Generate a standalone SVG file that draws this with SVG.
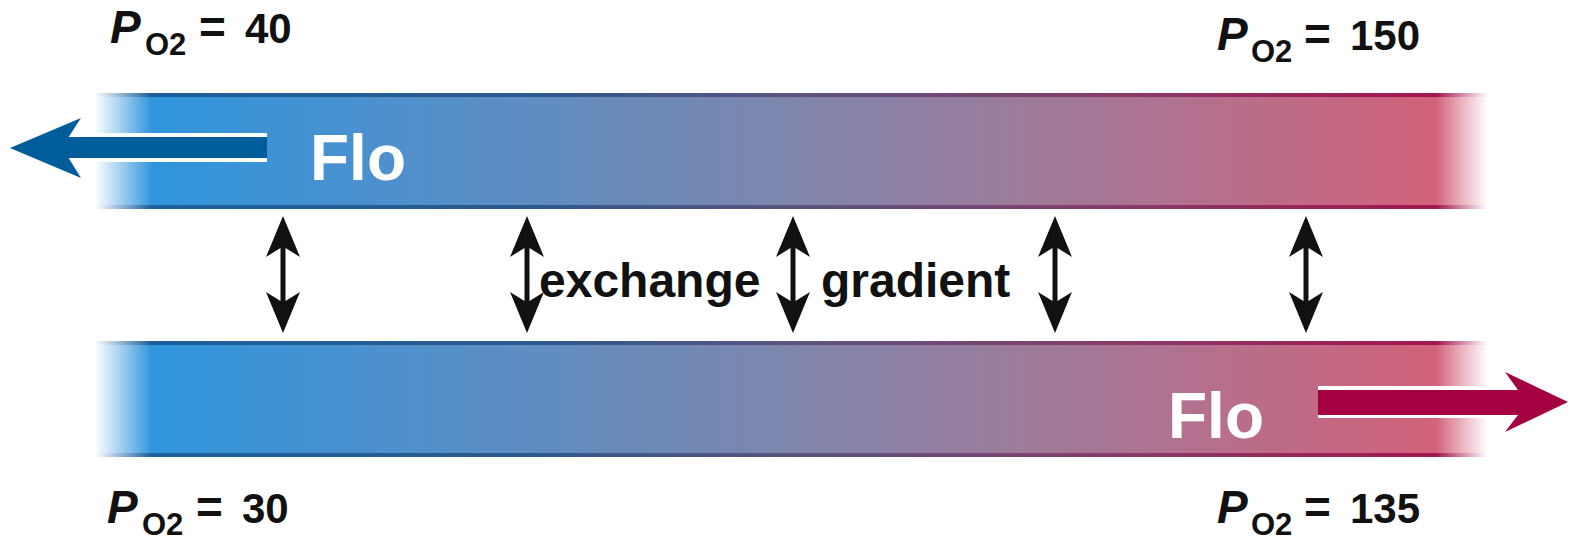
<svg xmlns="http://www.w3.org/2000/svg" width="1575" height="549" viewBox="0 0 1575 549">
<style>
.lbl{font-family:"Liberation Sans",Arial,sans-serif;font-weight:bold;fill:#111;font-size:42px;}
.p{font-style:italic;font-size:46px;}
.sub{font-size:31px;}
.eq{font-size:46px;}
.flo{font-family:"Liberation Sans",Arial,sans-serif;font-weight:bold;fill:#fff;font-size:64px;}
.mid{font-family:"Liberation Sans",Arial,sans-serif;font-weight:bold;fill:#111;font-size:48px;}
</style>
<defs>
<linearGradient id="body" gradientUnits="userSpaceOnUse" x1="96" y1="0" x2="1482" y2="0">
<stop offset="0" stop-color="#3a9ce0"/>
<stop offset="0.04" stop-color="#2f95dc"/>
<stop offset="0.22" stop-color="#4f90cc"/>
<stop offset="0.45" stop-color="#7688b2"/>
<stop offset="0.65" stop-color="#9a7d9e"/>
<stop offset="0.87" stop-color="#c06a86"/>
<stop offset="0.96" stop-color="#d0627a"/>
<stop offset="1" stop-color="#d86880"/>
</linearGradient>
<linearGradient id="edge" gradientUnits="userSpaceOnUse" x1="96" y1="0" x2="1482" y2="0">
<stop offset="0" stop-color="#1a5f9e"/>
<stop offset="0.3" stop-color="#2a5a8e"/>
<stop offset="0.5" stop-color="#5a5580"/>
<stop offset="0.75" stop-color="#8a3a66"/>
<stop offset="1" stop-color="#a8104a"/>
</linearGradient>
<linearGradient id="fadeL" x1="0" y1="0" x2="1" y2="0">
<stop offset="0" stop-color="#fff" stop-opacity="1"/>
<stop offset="1" stop-color="#fff" stop-opacity="0"/>
</linearGradient>
<linearGradient id="fadeR" x1="0" y1="0" x2="1" y2="0">
<stop offset="0" stop-color="#fff" stop-opacity="0"/>
<stop offset="1" stop-color="#fff" stop-opacity="1"/>
</linearGradient>
<path id="dbl" d="M0,216 L17,257 L2.5,248 L2.5,301 L17,292 L0,333 L-17,292 L-2.5,301 L-2.5,248 L-17,257 Z" fill="#111"/>
</defs>

<g id="band-top">
<rect x="96" y="93" width="1390" height="116" fill="url(#body)"/>
<rect x="96" y="93" width="1390" height="4" fill="url(#edge)"/>
<rect x="96" y="205" width="1390" height="4" fill="url(#edge)"/>
<rect x="94" y="92" width="58" height="118" fill="url(#fadeL)"/>
<rect x="1436" y="92" width="52" height="118" fill="url(#fadeR)"/>
</g>
<g id="band-bottom">
<rect x="96" y="341" width="1390" height="116" fill="url(#body)"/>
<rect x="96" y="341" width="1390" height="4" fill="url(#edge)"/>
<rect x="96" y="453" width="1390" height="4" fill="url(#edge)"/>
<rect x="94" y="340" width="58" height="118" fill="url(#fadeL)"/>
<rect x="1436" y="340" width="52" height="118" fill="url(#fadeR)"/>
</g>

<g id="connectors">
<g id="flow-left">
<rect x="70" y="133" width="197" height="29" fill="#fff"/>
<rect x="66" y="137" width="201" height="21" fill="#015c9b"/>
<path d="M10,148 L81,118 L68,138 L68,157 L81,178 Z" fill="#015c9b"/>
</g>
<g id="flow-right">
<rect x="1318" y="386" width="192" height="32" fill="#fff"/>
<rect x="1318" y="390" width="202" height="25" fill="#a50042"/>
<path d="M1568,402 L1505,372 L1518,390 L1518,415 L1505,432 Z" fill="#a50042"/>
</g>
<use href="#dbl" x="283"/>
<use href="#dbl" x="527"/>
<use href="#dbl" x="793"/>
<use href="#dbl" x="1055"/>
<use href="#dbl" x="1306"/>
</g>

<g id="label-flo-top"><text class="flo" x="310" y="180">Flo</text></g>
<g id="label-flo-bottom"><text class="flo" x="1168" y="438">Flo</text></g>
<g id="label-exchange"><text class="mid" x="539" y="297">exchange</text></g>
<g id="label-gradient"><text class="mid" x="821" y="297">gradient</text></g>

<g id="po2-top-left"><text class="lbl" y="43"><tspan class="p" x="110">P</tspan><tspan class="sub" x="145" dy="12">O2</tspan><tspan class="eq" x="199" dy="-12">=</tspan><tspan x="245">40</tspan></text></g>
<g id="po2-top-right"><text class="lbl" y="50"><tspan class="p" x="1217">P</tspan><tspan class="sub" x="1251" dy="12">O2</tspan><tspan class="eq" x="1304" dy="-12">=</tspan><tspan x="1350">150</tspan></text></g>
<g id="po2-bottom-left"><text class="lbl" y="523"><tspan class="p" x="107">P</tspan><tspan class="sub" x="142" dy="12">O2</tspan><tspan class="eq" x="196" dy="-12">=</tspan><tspan x="242">30</tspan></text></g>
<g id="po2-bottom-right"><text class="lbl" y="523"><tspan class="p" x="1217">P</tspan><tspan class="sub" x="1251" dy="12">O2</tspan><tspan class="eq" x="1304" dy="-12">=</tspan><tspan x="1350">135</tspan></text></g>
</svg>
